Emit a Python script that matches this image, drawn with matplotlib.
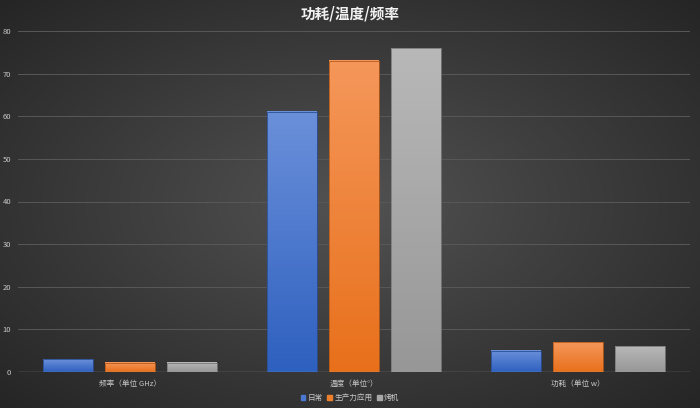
import numpy as np
import matplotlib.pyplot as plt
from matplotlib.colors import LinearSegmentedColormap
from matplotlib.patches import Rectangle

plt.rcParams['font.family'] = ['Noto Sans CJK SC', 'DejaVu Sans']

categories = ['频率（单位 GHz）', '温度（单位°）', '功耗（单位 w）']
series = ['日常', '生产力应用', '烤机']
daily = [3, 61, 5]
productivity = [2.2, 73, 7]
burn = [2.2, 76, 6]

top_cols = ['#6b90da', '#f5975a', '#b8b8b8']
bot_cols = ['#2e60bf', '#e8701b', '#979797']
edge_cols = ['#2a4f96', '#b85a18', '#7a7a7a']

fig = plt.figure(figsize=(7, 4.08), dpi=100)

# radial background
bg = fig.add_axes([0, 0, 1, 1])
yy, xx = np.mgrid[-1:1:300j, -1:1:500j]
r = np.sqrt(xx ** 2 + yy ** 2)
bgmap = LinearSegmentedColormap.from_list('bg', ['#525252', '#242424'])
bg.imshow(r, cmap=bgmap, aspect='auto', extent=[0, 1, 0, 1], vmin=0, vmax=1.45)
bg.set_axis_off()

ax = fig.add_axes([18 / 700, 1 - 372 / 408, 672 / 700, 341 / 408])
ax.patch.set_alpha(0)
ax.set_xlim(-0.5, 2.5)
ax.set_ylim(0, 80)

for y in range(10, 81, 10):
    ax.axhline(y, color='#585858', lw=0.7, zorder=1)
ax.axhline(0, color='#a8a8a8', lw=0.9, zorder=4)

x = np.arange(len(categories))
width = 0.222
offsets = [-0.278, 0, 0.278]
grad = np.linspace(0, 1, 100).reshape(-1, 1)
for i, vals in enumerate([daily, productivity, burn]):
    cmap = LinearSegmentedColormap.from_list('b%d' % i, [bot_cols[i], top_cols[i]])
    for xi, v in zip(x, vals):
        x0 = xi + offsets[i] - width / 2
        ax.imshow(grad, cmap=cmap, aspect='auto', origin='lower',
                  extent=[x0, x0 + width, 0, v], zorder=2)
        ax.add_patch(Rectangle((x0, 0), width, v, fill=False,
                               edgecolor=edge_cols[i], lw=0.6, zorder=3))
ax.set_xlim(-0.5, 2.5)
ax.set_ylim(0, 80)

ax.set_yticks(range(0, 81, 10))
ax.set_xticks(x)
ax.set_xticklabels(categories)
ax.tick_params(axis='both', length=0, colors='#c8c8c8', labelsize=5.5)
ax.tick_params(axis='y', pad=5)
ax.tick_params(axis='x', pad=6)
for s in ax.spines.values():
    s.set_visible(False)

fig.text(0.5, 0.968, '功耗/温度/频率', ha='center', va='center',
         color='#f2f2f2', fontsize=10.5, fontweight='bold')

handles = [Rectangle((0, 0), 1, 1, color=c) for c in ['#4a78d0', '#ee7f2d', '#a8a8a8']]
fig.legend(handles, series, loc='center', bbox_to_anchor=(0.5, 1 - 398 / 408),
           ncol=3, frameon=False, fontsize=5.5, labelcolor='#c8c8c8',
           handlelength=0.6, handleheight=0.6, handletextpad=0.3, columnspacing=0.6)

fig.savefig('out.png', dpi=100)
